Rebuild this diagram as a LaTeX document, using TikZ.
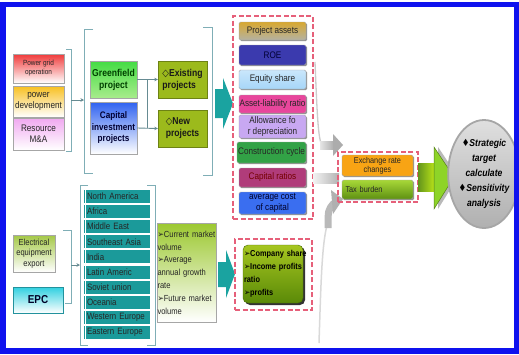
\documentclass[tikz,border=0pt]{standalone}
\usepackage{fontspec}
\setmainfont{Liberation Sans}
\newfontfamily\nar{Liberation Sans}[FakeStretch=0.86]
\newfontfamily\sym{DejaVu Sans}[FakeStretch=0.86]
\usetikzlibrary{shadows,calc,arrows.meta,shapes.geometric}

\definecolor{frameblue}{HTML}{0F12EE}
\definecolor{brk}{HTML}{7FAEB6}
\definecolor{tealarrow}{HTML}{1AA3A0}
\definecolor{regionteal}{HTML}{1B9A9A}
\definecolor{dashred}{HTML}{E6607A}
\definecolor{olive}{HTML}{9CBA1C}
\definecolor{gridred}{HTML}{F03A3A}
\definecolor{devyellow}{HTML}{F8C020}
\definecolor{mapink}{HTML}{F0A8F0}
\definecolor{gfgreen}{HTML}{44DC44}
\definecolor{gflight}{HTML}{A8EC8C}
\definecolor{cipblue}{HTML}{2F62F0}
\definecolor{pagold}{HTML}{D8A830}
\definecolor{pagray}{HTML}{B4B2A2}
\definecolor{roeblue}{HTML}{3B3AAE}
\definecolor{eqblue}{HTML}{A6D6F8}
\definecolor{alrpink}{HTML}{E8469C}
\definecolor{deplav}{HTML}{C8A8F2}
\definecolor{ccgreen}{HTML}{32A246}
\definecolor{crplum}{HTML}{B03C7A}
\definecolor{accblue}{HTML}{3A6EF0}
\definecolor{ercorange}{HTML}{F8A414}
\definecolor{taxtop}{HTML}{A8D838}
\definecolor{taxbot}{HTML}{5E9012}
\definecolor{arrowlime}{HTML}{8ED428}
\definecolor{mkgreen}{HTML}{9CC830}
\definecolor{eeegreen}{HTML}{A4C846}
\definecolor{epccyan}{HTML}{30D0E0}
\definecolor{cshtop}{HTML}{A6C620}
\definecolor{cshbot}{HTML}{5A8A08}

\newcommand\tipmark{{\sym ➢}}
\newcommand\wdia{{\sym ◇}}
\newcommand\bdia{{\sym ♦}}

\begin{document}
\begin{tikzpicture}[x=1pt,y=-1pt,
  cell/.style={draw=black!35, line width=0.4pt, inner sep=0pt, align=center, text=black!85},
  pill/.style={cell, rounded corners=1.5pt, minimum width=67pt,
    font=\nar\fontsize{9.5}{10}\selectfont,
    drop shadow={shadow xshift=1.2pt, shadow yshift=-1.2pt, opacity=.6, fill=black!70}},
  region/.style={fill=regionteal, minimum width=66pt, minimum height=13pt,
    text width=60pt, inner xsep=3pt, inner ysep=0pt, align=left, text=black!85,
    font=\nar\fontsize{9.2}{10}\selectfont,
    path picture={\draw[white, line width=1.2pt]
      ([xshift=1.5pt]path picture bounding box.north west) --
      ([xshift=1.5pt]path picture bounding box.south west);}},
  dashbox/.style={draw=dashred, line width=1.3pt, dash pattern=on 5pt off 2.5pt, inner sep=0pt},
  bracket/.style={draw=brk, line width=1pt},
  link/.style={draw=brk!80!black, line width=0.9pt, -{Stealth[length=3.5pt,width=3.5pt]}}
]
\useasboundingbox (0,0) rectangle (519,354);
\fill[white] (0,0) rectangle (519,354);

% ---------- sources of project types ----------
\node[cell, top color=gridred, bottom color=white, minimum width=51pt, minimum height=29pt,
  font=\nar\fontsize{7.5}{9}\selectfont] (pgo) at (38.5,68.5) {Power grid\\operation};
\node[cell, top color=devyellow, bottom color=white, minimum width=51pt, minimum height=31pt,
  font=\nar\fontsize{9.5}{11}\selectfont] (pdev) at (38.5,101.5) {power\\development};
\node[cell, top color=mapink, bottom color=white, minimum width=51pt, minimum height=32pt,
  font=\nar\fontsize{9.5}{11}\selectfont] (rma) at (38.5,134) {Resource\\M\&A};

\draw[bracket] (66,49) -- (71,49) -- (71,151) -- (66,151);
\coordinate (b1) at (71,100);
\coordinate (b1e) at (84,100);
\draw[link] (b1) -- (b1e);

% ---------- project classes ----------
\draw[bracket] (93,29) -- (84,29) -- (84,173) -- (93,173);
\draw[bracket] (203,27) -- (212,27) -- (212,175) -- (203,175);

\node[cell, top color=gfgreen, bottom color=gflight, minimum width=47pt, minimum height=37pt,
  text=green!25!black, font=\nar\bfseries\fontsize{10}{12}\selectfont] (gf) at (113.5,79.5) {Greenfield\\project};
\node[cell, top color=cipblue, bottom color=white, minimum width=47pt, minimum height=52pt,
  text=blue!20!black, font=\nar\bfseries\fontsize{9.5}{11.5}\selectfont] (cip) at (113.5,128) {Capital\\investment\\projects};
\node[cell, fill=olive, draw=olive!70!black, minimum width=49pt, minimum height=37pt,
  align=left, text=black!90, font=\nar\bfseries\fontsize{10}{12}\selectfont] (ex) at (182.5,79.5) {\wdia Existing\\projects};
\node[cell, fill=olive, draw=olive!70!black, minimum width=49pt, minimum height=37pt,
  align=left, text=black!90, font=\nar\bfseries\fontsize{10}{12}\selectfont] (nw) at (182.5,128.5) {\wdia New\\projects};

\draw[link] (gf.east) -- (ex.west);
\draw[link] (cip.east) -- (nw.west);
\draw[draw=brk!80!black, line width=0.9pt] ($(gf.east)!.5!(ex.west)$) -- ($(cip.east)!.5!(nw.west)$);

% teal block arrow into the parameter group
\fill[tealarrow] (215,89) -- (223,89) -- (223,78) -- (233,103.5) -- (223,129) -- (223,118) -- (215,118) -- cycle;

% ---------- project parameters ----------
\node[dashbox, minimum width=80pt, minimum height=203pt] (grp1) at (273,117.5) {};
\node[pill, top color=pagold, bottom color=pagray, minimum height=18pt] (pa) at (272.5,31) {Project assets};
\node[pill, fill=roeblue, minimum height=20pt, text=blue!20!black] (roe) at (272.5,55) {ROE};
\node[pill, top color=eqblue!60, bottom color=eqblue, minimum height=19pt] (eq) at (272.5,79.5) {Equity share};
\node[pill, fill=alrpink, minimum height=18pt] (alr) at (272.5,104) {Asset-liability ratio};
\node[pill, fill=deplav, minimum height=23pt, font=\nar\fontsize{9.5}{10.5}\selectfont] (adep) at (272.5,126.5) {Allowance fo\\r depreciation};
\node[pill, fill=ccgreen, minimum width=69pt, minimum height=21pt] (cc) at (271.5,152.5) {Construction cycle};
\node[pill, fill=crplum, minimum height=19pt, text=red!45!black] (cr) at (272.5,177.5) {Capital ratios};
\node[pill, fill=accblue, minimum height=22pt, font=\nar\fontsize{9.5}{10.5}\selectfont, text=blue!15!black] (acc) at (272.5,203) {average cost\\of capital};

% ---------- grey feeder arrows ----------
\draw[gray!40, line width=1.3pt] (315,62) .. controls (317,110) and (318,140) .. (322,145);
\fill[left color=gray!20, right color=gray!65] (320,141) rectangle (334,149);
\fill[gray!65] (333,134) -- (343,145) -- (333,156) -- cycle;
\fill[left color=gray!10, right color=gray!60] (313,173) rectangle (339,183);
\draw[gray!30, line width=1.5pt] (319,343) .. controls (321,280) and (322,240) .. (328,222);
\draw[gray!55, line width=7pt] (328,228) .. controls (328,210) .. (334,203);
\fill[gray!62] (331,190) -- (343,199) -- (333,214) -- cycle;

% ---------- external factors ----------
\node[dashbox, minimum width=80pt, minimum height=50pt] (grp2) at (378,177) {};
\node[pill, fill=ercorange, minimum width=71pt, minimum height=21pt,
  font=\nar\fontsize{8.5}{9}\selectfont] (erc) at (377.5,165.5) {Exchange rate\\changes};
\node[pill, top color=taxtop, bottom color=taxbot, minimum width=71pt, minimum height=19pt,
  text width=64pt, align=left, inner xsep=3.5pt,
  font=\nar\fontsize{8.5}{9}\selectfont] (tax) at (377.5,189.5) {Tax burden};

% green block arrow to the goal
\fill[gray!55] (438,147) -- (458,177) -- (438,209) -- cycle;
\fill[left color=arrowlime!70!black, right color=arrowlime!60!yellow] (418,163) rectangle (435,191);
\fill[arrowlime, draw=arrowlime!60!black, line width=0.5pt] (434,147) -- (454,177) -- (434,209) -- cycle;

% ---------- goal ----------
\node[ellipse, draw=gray!70, line width=1.8pt, top color=gray!25, middle color=white, bottom color=gray!62,
  minimum width=64pt, minimum height=108pt, inner sep=0pt, align=center, text=black,
  font=\nar\bfseries\itshape\fontsize{10}{15}\selectfont] (goal) at (484,174)
  {\bdia Strategic\\target\\calculate\\\bdia Sensitivity\\analysis};

% ---------- export business ----------
\node[cell, top color=eeegreen, bottom color=white, minimum width=42pt, minimum height=37pt,
  font=\nar\fontsize{8.8}{10.5}\selectfont] (eee) at (34,253.5) {Electrical\\equipment\\export};
\node[cell, top color=epccyan, bottom color=white, draw=epccyan!70!black, minimum width=50pt, minimum height=26pt,
  text=blue!15!black, font=\nar\bfseries\fontsize{11.5}{12}\selectfont] (epc) at (38,300) {EPC};

\draw[bracket] (63,230) -- (71,230) -- (71,303) -- (65,303);
\coordinate (b2) at (71,265);
\coordinate (b2e) at (80,265);
\draw[link] (b2) -- (b2e);

\draw[bracket] (88,185) -- (80,185) -- (80,345) -- (88,345);
\draw[bracket] (147,185) -- (155,185) -- (155,345) -- (147,345);

\node[region] (r1) at (117,196.5) {North America};
\node[region] (r2) at (117,211.6) {Africa};
\node[region] (r3) at (117,226.7) {Middle East};
\node[region] (r4) at (117,241.8) {Southeast Asia};
\node[region] (r5) at (117,256.9) {India};
\node[region] (r6) at (117,272.0) {Latin Americ};
\node[region] (r7) at (117,287.1) {Soviet union};
\node[region] (r8) at (117,302.2) {Oceania};
\node[region] (r9) at (117,317.3) {Western Europe};
\node[region] (r10) at (117,332.4) {Eastern Europe};

\node[cell, top color=mkgreen, bottom color=white, minimum width=59pt, minimum height=99pt,
  text width=58pt, align=left, inner xsep=0.5pt,
  font=\nar\fontsize{8.8}{12.8}\selectfont] (mkt) at (186.5,272.5)
  {\mbox{\tipmark Current market}\\volume\\\tipmark Average\\annual growth\\rate\\\mbox{\tipmark Future market}\\volume};

% teal block arrow into the market results
\fill[tealarrow] (218,262) -- (226,262) -- (226,250) -- (235,274) -- (226,298) -- (226,287) -- (218,287) -- cycle;

% ---------- market results ----------
\node[dashbox, minimum width=77pt, minimum height=71pt] (grp3) at (273.5,274.5) {};
\node[cell, rounded corners=5pt, top color=cshtop, bottom color=cshbot, draw=cshbot!80!black,
  minimum width=60pt, minimum height=58pt, text width=58pt, align=left, inner xsep=1pt,
  text=black, font=\nar\bfseries\fontsize{8.6}{13}\selectfont,
  drop shadow={shadow xshift=2pt, shadow yshift=-2pt, fill=black, opacity=.8}] (csh) at (273,274)
  {\mbox{\tipmark Company share}\\\mbox{\tipmark Income profits}\\ratio\\\tipmark profits};

% ---------- outer frame ----------
\draw[frameblue, line width=5.5pt] (2.75,4.5) rectangle (516.25,351);
\end{tikzpicture}
\end{document}
